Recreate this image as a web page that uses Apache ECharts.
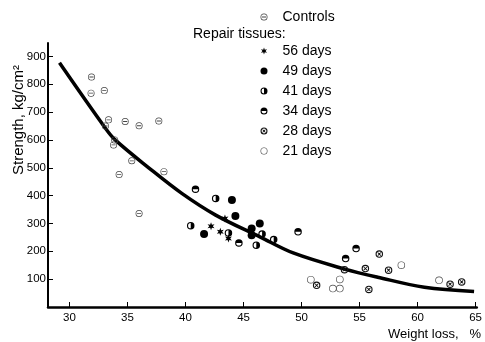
<!DOCTYPE html>
<html><head><meta charset="utf-8">
<script src="https://cdn.jsdelivr.net/npm/echarts@6/dist/echarts.min.js"></script>
<style>html,body{margin:0;padding:0;background:#fff}#c{width:485px;height:342px}</style>
</head><body><div id="c"></div>
<script>
// ---- data (weight loss %, strength kg/cm2) ----
const xTicks = [30, 35, 40, 45, 50, 55, 60, 65];
const yTicks = [100, 200, 300, 400, 500, 600, 700, 800, 900];

const controls = [[31.9,826],[31.86,768],[33.0,777],[33.37,672],[33.1,650],[34.8,666],[36.0,651],[37.7,668],[33.9,600],[33.8,582],[34.28,476],[35.37,525],[38.14,486],[36.0,336]];
const d56 = [[43.4,318],[42.2,290],[43.0,270],[43.7,246]];
const d49 = [[44.0,384],[44.3,327],[41.6,262],[45.7,282],[46.4,300],[45.7,258]];
const d41 = [[42.6,390],[40.45,292],[43.7,266],[46.6,262],[46.1,222],[47.6,242]];
const d34 = [[40.86,423],[44.6,230],[49.7,270],[54.7,210],[53.8,174]];
const d28 = [[55.5,138],[53.7,134],[51.3,78],[55.8,63],[56.7,190],[57.5,132],[62.8,82],[63.8,90]];
const d21 = [[50.8,98],[53.3,99],[52.7,66],[53.3,66],[58.6,150],[61.85,96]];

const curveX = [29.14, 33.08, 33.94, 36.86, 39.68, 42.6, 46.45, 49.28, 53.74, 56.56, 60.59, 64.87];
const curveY = [877, 643, 600, 499, 408, 330, 251, 194, 136, 107, 71, 56];

// ---- symbols ----
const ringO = 'M0,-10A10,10 0 1,1 0,10A10,10 0 1,1 0,-10Z';
const ringI = 'M0,-7A7,7 0 1,0 0,7A7,7 0 1,0 0,-7Z';
const ring = ringO + ringI;
const thinRing = ringO + 'M0,-8.3A8.3,8.3 0 1,0 0,8.3A8.3,8.3 0 1,0 0,-8.3Z';
const symControl = 'path://' + ringO + 'M0,-8A8,8 0 1,0 0,8A8,8 0 1,0 0,-8Z' + 'M-6,-1.2L6,-1.2L6,1.2L-6,1.2Z';
const symStar = 'path://M0,-10L2.25,-3.9L8.66,-5L4.5,0L8.66,5L2.25,3.9L0,10L-2.25,3.9L-8.66,5L-4.5,0L-8.66,-5L-2.25,-3.9Z';
const symRight = 'path://' + ring + 'M0,-7A7,7 0 0,1 0,7Z';
const symTop = 'path://' + ring + 'M-7,0A7,7 0 0,1 7,0Z';
const symX = 'path://' + ring + 'M-5,-3.4L-3.4,-5L5,3.4L3.4,5Z M3.4,-5L5,-3.4L-3.4,5L-5,3.4Z';
const symOpen = 'path://' + thinRing;

const font = 'Liberation Sans, Arial, sans-serif';
const chart = echarts.init(document.getElementById('c'), null, {renderer: 'canvas'});

function sc(name, data, symbol, size, color) {
  return {name, type: 'scatter', data, symbol, symbolSize: size, symbolKeepAspect: true,
    itemStyle: {color, opacity: 1}, z: 3, silent: true};
}

chart.setOption({
  animation: false,
  backgroundColor: '#fff',
  grid: {left: 48, right: 7, top: 43, bottom: 35, containLabel: false},
  xAxis: {
    type: 'value', min: 28.15, max: 65.1,
    axisLine: {show: true, onZero: false, lineStyle: {color: '#000', width: 2.5}},
    axisTick: {show: true, inside: true, length: 5, customValues: xTicks, lineStyle: {color: '#000', width: 1}},
    axisLabel: {customValues: xTicks, margin: 5, fontFamily: font, fontSize: 11.5, color: '#000'},
    splitLine: {show: false}
  },
  yAxis: {
    type: 'value', min: 0, max: 948,
    axisLine: {show: true, onZero: false, lineStyle: {color: '#000', width: 2}},
    axisTick: {show: true, inside: true, length: 5, customValues: yTicks, lineStyle: {color: '#000', width: 1}},
    axisLabel: {customValues: yTicks, margin: 2, fontFamily: font, fontSize: 11.5, color: '#000'},
    splitLine: {show: false}
  },
  legend: [
    {data: ['Controls'], left: 260.5, top: 9, padding: 0, itemWidth: 7, itemHeight: 7, selectedMode: false,
     textStyle: {fontFamily: font, fontSize: 14, color: '#000', lineHeight: 16, padding: [0, 0, 0, 10]}},
    {data: ['56 days', '49 days', '41 days', '34 days', '28 days', '21 days'], orient: 'vertical',
     left: 260.5, top: 43, padding: 0, itemGap: 4, itemWidth: 7, itemHeight: 7, selectedMode: false,
     textStyle: {fontFamily: font, fontSize: 14, color: '#000', lineHeight: 16, padding: [0, 0, 0, 10]}}
  ],
  graphic: [
    {type: 'text', left: 193, top: 27, style: {text: 'Repair tissues:', font: '14px ' + font, fill: '#000'}},
    {type: 'text', x: 19, y: 120, rotation: Math.PI / 2,
     style: {text: 'Strength, kg/cm²', font: '15px ' + font, fill: '#000', align: 'center', verticalAlign: 'middle'}},
    {type: 'text', x: 388, y: 334,
     style: {text: 'Weight loss,   %', font: '13px ' + font, fill: '#000', align: 'left', verticalAlign: 'middle'}}
  ],
  series: [
    {type: 'line', name: 'fit', data: curveX.map((x, i) => [x, curveY[i]]), smooth: 0.35, showSymbol: false,
     lineStyle: {color: '#000', width: 3.5}, z: 2, silent: true},
    sc('Controls', controls, symControl, 7, '#444'),
    sc('56 days', d56, symStar, 8, '#000'),
    sc('49 days', d49, 'circle', 8, '#000'),
    sc('41 days', d41, symRight, 7.5, '#000'),
    sc('34 days', d34, symTop, 7.5, '#000'),
    sc('28 days', d28, symX, 7.5, '#111'),
    sc('21 days', d21, symOpen, 7.5, '#444')
  ]
});
</script></body></html>
